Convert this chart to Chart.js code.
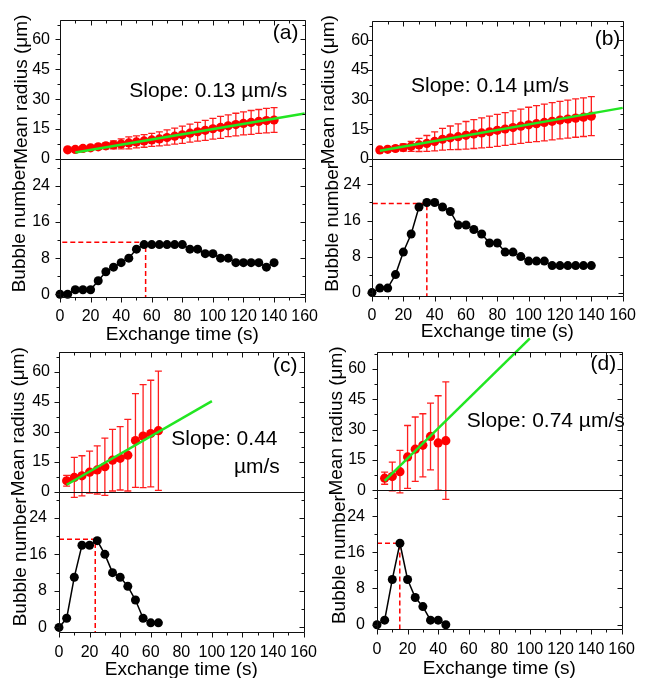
<!DOCTYPE html>
<html>
<head>
<meta charset="utf-8">
<script src="https://cdn.jsdelivr.net/npm/chart.js@4.4.1/dist/chart.umd.min.js"></script>
<style>
html, body { margin: 0; padding: 0; background: #fff; width: 646px; height: 678px; overflow: hidden; }
canvas { position: absolute; }
</style>
</head>
<body>
<canvas id="chartA" width="328" height="346" style="left:0px;top:0px"></canvas>
<canvas id="chartB" width="330" height="343" style="left:316px;top:0px"></canvas>
<canvas id="chartC" width="328" height="351" style="left:0px;top:330px"></canvas>
<canvas id="chartD" width="330" height="350" style="left:316px;top:330px"></canvas>
<script>
// Panel (a)
const timeRA = [5, 10, 15, 20, 25, 30, 35, 40, 45, 50, 55, 60, 65, 70, 75, 80, 85, 90, 95, 100, 105, 110, 115, 120, 125, 130, 135, 140];
const radiusA = [4.5, 4.7, 5.2, 5.5, 6, 6.5, 7, 7.5, 8, 8.5, 9, 9.5, 10, 10.7, 11.4, 12.1, 12.9, 13.6, 14.3, 15.1, 15.8, 16.6, 17.2, 17.8, 18.3, 18.8, 19.2, 19.5];
const errA = [0.5, 0.6, 0.8, 1, 1.2, 1.5, 2, 2.5, 3, 3, 3.2, 3.3, 3.5, 3.8, 4, 4.3, 4.5, 4.7, 5, 5.2, 5.5, 5.5, 5.7, 5.8, 6, 6, 6.2, 6.2];
const timeBA = [0, 5, 10, 15, 20, 25, 30, 35, 40, 45, 50, 55, 60, 65, 70, 75, 80, 85, 90, 95, 100, 105, 110, 115, 120, 125, 130, 135, 140];
const bubblesA = [0, 0, 1, 1, 1, 3, 5, 6, 7, 8, 10, 11, 11, 11, 11, 11, 11, 10, 10, 9, 9, 8, 8, 7, 7, 7, 7, 6, 7];
const fitXA = [10, 160], fitYA = [3.2, 22.8];
const peakXA = [1.5, 56, 56], peakYA = [11.5, 11.5, -0.6];

// Panel (b)
const timeRB = [5, 10, 15, 20, 25, 30, 35, 40, 45, 50, 55, 60, 65, 70, 75, 80, 85, 90, 95, 100, 105, 110, 115, 120, 125, 130, 135, 140];
const radiusB = [4.5, 4.8, 5.2, 5.7, 6.3, 7, 7.8, 8.8, 9.9, 10.6, 11.2, 11.9, 12.5, 13.1, 13.7, 14.4, 15.1, 15.8, 16.5, 17.2, 17.8, 18.4, 19, 19.6, 20.1, 20.6, 21.1, 21.6];
const errB = [0.5, 0.8, 1.2, 1.8, 2.5, 3.3, 4, 4.8, 5.5, 6, 6.5, 7, 7.3, 7.6, 7.9, 8.1, 8.3, 8.5, 8.7, 8.9, 9.1, 9.3, 9.4, 9.5, 9.6, 9.7, 9.8, 9.9];
const timeBB = [0, 5, 10, 15, 20, 25, 30, 35, 40, 45, 50, 55, 60, 65, 70, 75, 80, 85, 90, 95, 100, 105, 110, 115, 120, 125, 130, 135, 140];
const bubblesB = [0, 1, 1, 4, 9, 13, 19, 20, 20, 19, 18, 15, 15, 14, 13, 11, 11, 9, 9, 8, 7, 7, 7, 6, 6, 6, 6, 6, 6];
const fitXB = [5, 160], fitYB = [4.1, 25.8];
const peakXB = [0.5, 35, 35], peakYB = [19.8, 19.8, -0.75];

// Panel (c)
const timeRC = [5, 10, 15, 20, 25, 30, 35, 40, 45, 50, 55, 60, 65];
const radiusC = [5.5, 7.2, 8, 9.8, 10.9, 12.5, 15.8, 16.7, 18.3, 25.6, 27.8, 29.1, 30.5];
const errC = [2.7, 10, 10, 10.5, 12, 14.3, 15.4, 15.8, 17.9, 23.4, 25.7, 26.6, 29.8];
const timeBC = [0, 5, 10, 15, 20, 25, 30, 35, 40, 45, 50, 55, 60, 65];
const bubblesC = [0, 2, 11, 18, 18, 19, 16, 12, 11, 9, 6, 2, 1, 1];
const fitXC = [5, 100], fitYC = [3.5, 45.3];
const peakXC = [0, 23.7, 23.7], peakYC = [19.3, 19.3, -1];

// Panel (d)
const timeRD = [5, 10, 15, 20, 25, 30, 35, 40, 45];
const radiusD = [6, 6.8, 9.2, 16.5, 20.3, 22.2, 26.6, 23.4, 24.5];
const errD = [3, 7.1, 10.5, 15.5, 15.9, 15.6, 16.5, 23.3, 29];
const timeBD = [0, 5, 10, 15, 20, 25, 30, 35, 40, 45];
const bubblesD = [0, 1, 10, 18, 10, 6, 4, 1, 1, 0];
const fitXD = [5, 100], fitYD = [4.7, 75];
const peakXD = [0, 14.9, 14.9], peakYD = [18, 18, -0.95];

const FONT = "'Liberation Sans', Arial, sans-serif";

function pts(xs, ys) {
    return xs.map((x, i) => ({ x: x, y: ys[i] }));
}

// error bars drawn through the chart's own scales
const errorBars = {
    id: 'errorBars',
    beforeDatasetsDraw(chart) {
        const ctx = chart.ctx;
        chart.data.datasets.forEach(ds => {
            if (!ds.errors) return;
            const xs = chart.scales.x, ys = chart.scales[ds.yAxisID];
            ctx.save();
            ctx.strokeStyle = 'rgb(255,30,30)';
            ctx.lineWidth = 1.3;
            ctx.beginPath();
            ds.data.forEach((p, i) => {
                const e = ds.errors[i];
                const px = xs.getPixelForValue(p.x);
                const hi = ys.getPixelForValue(p.y + e), lo = ys.getPixelForValue(p.y - e);
                ctx.moveTo(px, hi); ctx.lineTo(px, lo);
                ctx.moveTo(px - 3.5, hi); ctx.lineTo(px + 3.5, hi);
                ctx.moveTo(px - 3.5, lo); ctx.lineTo(px + 3.5, lo);
            });
            ctx.stroke();
            ctx.restore();
        });
    }
};

// box around each sub plot, major/minor ticks
const frame = {
    id: 'frame',
    afterDraw(chart) {
        const ctx = chart.ctx, a = chart.chartArea, xs = chart.scales.x;
        const L = Math.round(a.left) + 0.5, R = Math.round(a.right) + 0.5;
        const T = Math.round(a.top) + 0.5, B = Math.round(a.bottom) + 0.5;
        ctx.save();
        ctx.strokeStyle = '#111';
        ctx.lineWidth = 1;
        ctx.beginPath();
        ['yTop', 'yBot'].forEach(id => {
            const s = chart.scales[id];
            const st = Math.round(s.top) + 0.5, sb = Math.round(s.bottom) + 0.5;
            ctx.rect(L, st, R - L, sb - st);
            s.ticks.forEach(t => {
                const py = Math.round(s.getPixelForValue(t.value)) + 0.5;
                const len = t.label === '' ? 3 : 5;
                ctx.moveTo(L - len, py); ctx.lineTo(L, py);
                ctx.moveTo(R, py); ctx.lineTo(R - len, py);
            });
        });
        xs.ticks.forEach(t => {
            const px = Math.round(xs.getPixelForValue(t.value)) + 0.5;
            const len = t.label === '' ? 3 : 5;
            ctx.moveTo(px, B); ctx.lineTo(px, B + len);
            ctx.moveTo(px, T); ctx.lineTo(px, T + len);
        });
        ctx.stroke();
        ctx.restore();
    }
};

// slope text and panel letter
const notes = {
    id: 'notes',
    afterDatasetsDraw(chart) {
        const ctx = chart.ctx, xs = chart.scales.x, ys = chart.scales.yTop;
        ctx.save();
        ctx.fillStyle = '#000';
        ctx.font = '21px ' + FONT;
        ctx.textBaseline = 'middle';
        (chart.options.plugins.notes.items || []).forEach(n => {
            ctx.textAlign = n.align;
            ctx.fillText(n.text, xs.getPixelForValue(n.x), ys.getPixelForValue(n.y));
        });
        ctx.restore();
    }
};

function yAxis(o, which) {
    const top = which === 'top';
    return {
        type: 'linear',
        position: 'left',
        stack: 'panel',
        stackWeight: top ? o.wTop : o.wBot,
        min: top ? 0 : o.botMin,
        max: top ? o.topMax : o.botMax,
        grid: { display: false, drawTicks: false },
        border: { display: false },
        ticks: {
            stepSize: top ? 7.5 : 4,
            includeBounds: false,
            autoSkip: false,
            padding: top ? o.padTop : o.padBot,
            color: '#000',
            font: { family: FONT, size: 16 },
            callback: v => (Math.abs(v % (top ? 15 : 8)) < 1e-6 ? String(v) : '')
        },
        title: {
            display: true,
            text: top ? 'Mean radius (\u03bcm)' : 'Bubble number',
            color: '#000',
            font: { family: FONT, size: 19 },
            padding: { top: top ? o.titleTop : o.titleBot, bottom: 0 }
        },
        afterFit: s => { s.width = o.yWidth; }
    };
}

function makePanel(id, o) {
    return new Chart(document.getElementById(id).getContext('2d'), {
        type: 'line',
        data: {
            datasets: [
                { data: pts(o.fitX, o.fitY), yAxisID: 'yTop', borderColor: 'rgb(34,230,34)', borderWidth: 2.5, pointRadius: 0, clip: false },
                { data: pts(o.timeR, o.radius), errors: o.err, yAxisID: 'yTop', showLine: false, pointRadius: 4.6, pointBackgroundColor: '#ff0000', pointBorderWidth: 0, clip: false },
                { data: pts(o.timeB, o.bubbles), yAxisID: 'yBot', borderColor: '#000', borderWidth: 1.5, pointRadius: 4.5, pointBackgroundColor: '#000', pointBorderWidth: 0, clip: false },
                { data: pts(o.peakX, o.peakY), yAxisID: 'yBot', borderColor: '#ff0000', borderWidth: 1.5, borderDash: [5, 3], pointRadius: 0, clip: false }
            ]
        },
        options: {
            responsive: false,
            animation: false,
            layout: { padding: { left: 0, right: o.padR, top: o.padT, bottom: 0 } },
            plugins: {
                legend: { display: false },
                tooltip: { enabled: false },
                notes: { items: o.notes }
            },
            scales: {
                x: {
                    type: 'linear',
                    position: 'bottom',
                    min: 0,
                    max: 160,
                    grid: { display: false, drawTicks: false },
                    border: { display: false },
                    ticks: {
                        stepSize: 10, autoSkip: false, maxRotation: 0, minRotation: 0,
                        padding: o.xPad, color: '#000', font: { family: FONT, size: 16 },
                        callback: v => (v % 20 === 0 ? String(v) : '')
                    },
                    title: { display: true, text: 'Exchange time (s)', color: '#000', font: { family: FONT, size: 19 }, padding: { top: 0, bottom: 0 } },
                    afterFit: s => { s.height = o.xHeight; }
                },
                yBot: yAxis(o, 'bot'),
                yTop: yAxis(o, 'top')
            }
        },
        plugins: [errorBars, frame, notes]
    });
}

makePanel('chartA', {
    timeR: timeRA, radius: radiusA, err: errA, timeB: timeBA, bubbles: bubblesA,
    fitX: fitXA, fitY: fitYA, peakX: peakXA, peakY: peakYA,
    topMax: 70, botMin: -0.6, botMax: 30, wTop: 140, wBot: 139,
    padT: 18, padR: 16, yWidth: 60, xHeight: 49, xPad: 10,
    padTop: 10, padBot: 10, titleTop: 10.6, titleBot: 8,
    notes: [{ text: 'Slope: 0.13 \u00b5m/s', x: 45.3, y: 34, align: 'left' }, { text: '(a)', x: 156, y: 63, align: 'right' }]
});

makePanel('chartB', {
    timeR: timeRB, radius: radiusB, err: errB, timeB: timeBB, bubbles: bubblesB,
    fitX: fitXB, fitY: fitYB, peakX: peakXB, peakY: peakYB,
    topMax: 70, botMin: -0.75, botMax: 29.7, wTop: 141, wBot: 140,
    padT: 15, padR: 20, yWidth: 56, xHeight: 47, xPad: 10,
    padTop: 3, padBot: 11, titleTop: 1.6, titleBot: 5,
    notes: [{ text: 'Slope: 0.14 \u00b5m/s', x: 24.9, y: 36.8, align: 'left' }, { text: '(b)', x: 158.5, y: 60.8, align: 'right' }]
});

makePanel('chartC', {
    timeR: timeRC, radius: radiusC, err: errC, timeB: timeBC, bubbles: bubblesC,
    fitX: fitXC, fitY: fitYC, peakX: peakXC, peakY: peakYC,
    topMax: 70, botMin: -1, botMax: 29.7, wTop: 142, wBot: 142,
    padT: 18, padR: 16, yWidth: 59, xHeight: 49, xPad: 11,
    padTop: 9, padBot: 12, titleTop: 7.6, titleBot: 9.6,
    notes: [
        { text: 'Slope: 0.44', x: 73.4, y: 26.2, align: 'left' },
        { text: '\u00b5m/s', x: 114.4, y: 12.3, align: 'left' },
        { text: '(c)', x: 156, y: 62.7, align: 'right' }
    ]
});

makePanel('chartD', {
    timeR: timeRD, radius: radiusD, err: errD, timeB: timeBD, bubbles: bubblesD,
    fitX: fitXD, fitY: fitYD, peakX: peakXD, peakY: peakYD,
    topMax: 68.5, botMin: -0.95, botMax: 29.7, wTop: 140, wBot: 140,
    padT: 19, padR: 14, yWidth: 61, xHeight: 51, xPad: 11,
    padTop: 11, padBot: 12, titleTop: 9, titleBot: 12.6,
    notes: [{ text: 'Slope: 0.74 \u00b5m/s', x: 58.7, y: 34.3, align: 'left' }, { text: '(d)', x: 156.4, y: 62.4, align: 'right' }]
});
</script>
</body>
</html>
